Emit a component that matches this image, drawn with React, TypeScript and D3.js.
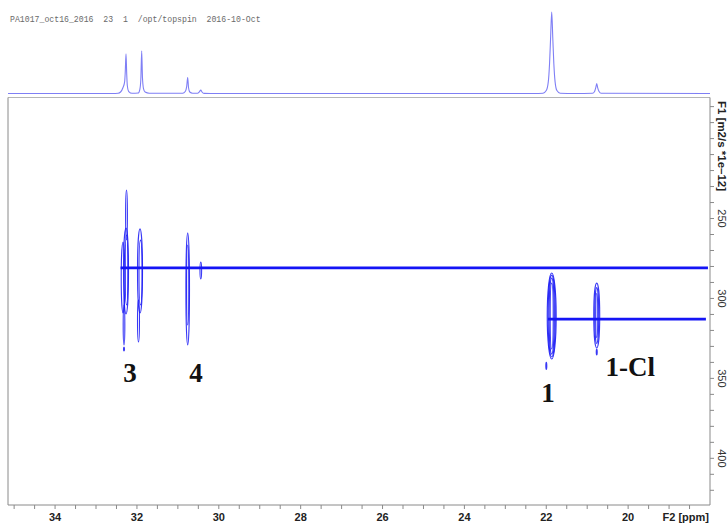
import React from "react";
import * as d3 from "d3";

// ---- data ----
const headerText = "PA1017_oct16_2016  23  1  /opt/topspin  2016-10-Oct";

// 1D projection (F2 ppm, intensity)
const specPpm = [35.15, 32.6, 32.46, 32.4, 32.34, 32.3, 32.285, 32.267, 32.25, 32.235, 32.2, 32.12,
  31.97, 31.93, 31.905, 31.884, 31.865, 31.84, 31.8, 31.7, 31.2,
  30.88, 30.82, 30.785, 30.76, 30.74, 30.71, 30.64,
  30.52, 30.47, 30.44, 30.41, 30.36, 30.2,
  22.3, 22.08, 22.0, 21.95, 21.92, 21.895, 21.867, 21.84, 21.815, 21.785, 21.74, 21.66, 21.3,
  20.87, 20.82, 20.79, 20.767, 20.745, 20.71, 20.66, 18.0];
const specInt = [0, 0, 0.3, 1.5, 6, 12, 22, 40, 20, 8, 2, 0.3,
  0.5, 4, 14, 43, 16, 5, 1.5, 0.3, 0.3,
  0.3, 2, 7, 16, 6, 1.5, 0.2,
  0.2, 2, 3.5, 1.5, 0.1, 0,
  0, 0.3, 3, 12, 30, 55, 82, 55, 30, 12, 3, 0.3, 0,
  0.2, 2, 6, 10, 6, 2, 0.2, 0];

// 2D contours: [ppm, diffusion, half-width ppm, half-height diffusion]
const contourPeak3a = [
  [32.267, 282.8, 0.061, 26.9],
  [32.255, 247.8, 0.022, 15.6],
  [32.34, 286.9, 0.044, 22.2],
  [32.255, 282.2, 0.032, 21.9],
  [32.316, 316.6, 0.02, 12.5],
  [32.316, 331.6, 0.012, 1.25],
];
const contourPeak3b = [
  [31.925, 282.8, 0.061, 26.3],
  [31.913, 283.8, 0.037, 20.3],
  [31.962, 314.1, 0.024, 13.1],
];
const contourPeak4 = [
  [30.76, 294.1, 0.044, 35],
  [30.76, 291.6, 0.027, 25],
  [30.44, 282.5, 0.02, 5.3],
];
const contourPeak1 = [
  [21.867, 311.0, 0.11, 26.9],
  [21.867, 311.0, 0.088, 25.6],
  [21.867, 311.0, 0.064, 23.8],
  [21.867, 311.0, 0.037, 20.6],
  [21.999, 342.2, 0.012, 2.2],
];
const contourPeak1Cl = [
  [20.767, 310.7, 0.073, 20.3],
  [20.767, 310.7, 0.049, 17.5],
  [20.767, 310.7, 0.024, 13.8],
  [20.767, 333.5, 0.012, 1.9],
];

// diffusion lines: [diffusion, from ppm, to ppm]
const diffLines = [
  [280.9, 32.4, 18.05],
  [312.9, 21.96, 18.1],
];

// compound labels: [text, ppm, diffusion]
const labelText = ["3", "4", "1", "1-Cl"];
const labelPpm = [32.17, 30.56, 21.96, 19.95];
const labelD = [352.3, 352.3, 364.8, 348.5];

const xMajorTicks = [34, 32, 30, 28, 26, 24, 22, 20];
const yMajorTicks = [250, 300, 350, 400];

export default function App() {
  const W = 727, H = 523;
  const L = 8, R = 710, T = 97.5, B = 505;
  const x = d3.scaleLinear().domain([35.15, 18.0]).range([L, R]);
  const y = d3.scaleLinear().domain([174.3, 429.2]).range([T, B]);
  const ys = d3.scaleLinear().domain([0, 82]).range([93.5, 12]);

  const specLine = d3.line<number>()
    .x((_, i) => x(specPpm[i]))
    .y((_, i) => ys(specInt[i]))
    .curve(d3.curveMonotoneX);

  const xMinor = d3.range(35, 18.2, -0.5);
  const yMinor = d3.range(180, 429, 10);
  const contours = [...contourPeak3a, ...contourPeak3b, ...contourPeak4, ...contourPeak1, ...contourPeak1Cl];
  const pxPerPpm = Math.abs(x(1) - x(0));
  const pxPerD = Math.abs(y(1) - y(0));
  const axisColor = "#8a8a8a";
  const blue = "#1515f5";

  return (
    <svg width={W} height={H} style={{ position: "absolute", left: 0, top: 0, background: "#fff" }}
      fontFamily="'Liberation Sans', Arial, sans-serif">
      <text x={10} y={22} fontFamily="'Liberation Mono', 'DejaVu Sans Mono', monospace" fontSize={8.2}
        fill="#6a6a6a" style={{ whiteSpace: "pre" }}>{headerText}</text>

      <path d={specLine(specPpm) || ""} fill="none" stroke="#7f7ff5" strokeWidth={1.1} />

      {/* frame */}
      <line x1={L} x2={R} y1={T} y2={T} stroke="#b5b5b5" strokeWidth={1} />
      <line x1={L} x2={L} y1={T} y2={B} stroke={axisColor} strokeWidth={1} />
      <line x1={R} x2={R} y1={T} y2={B} stroke={axisColor} strokeWidth={1} />
      <line x1={L} x2={R} y1={B} y2={B} stroke={axisColor} strokeWidth={1} />

      {xMinor.map((v) => (
        <line key={"xt" + v} x1={x(v)} x2={x(v)} y1={B} y2={B + 4} stroke={axisColor} strokeWidth={1} />
      ))}
      {xMajorTicks.map((v) => (
        <text key={"xl" + v} x={x(v)} y={521} textAnchor="middle" fontSize={11} fontWeight="bold" fill="#222">{v}</text>
      ))}
      <text x={709} y={521} textAnchor="end" fontSize={11} fontWeight="bold" fill="#222">F2 [ppm]</text>

      {yMinor.map((v) => (
        <line key={"yt" + v} x1={R} x2={R + 4} y1={y(v)} y2={y(v)} stroke={axisColor} strokeWidth={1} />
      ))}
      {yMajorTicks.map((v) => (
        <text key={"yl" + v} transform={`translate(718,${y(v)}) rotate(90)`} textAnchor="middle" fontSize={11} fill="#333">{v}</text>
      ))}
      <text transform={`translate(718,146) rotate(90)`} textAnchor="middle" fontSize={11.5} fontWeight="bold" fill="#222">F1 [m2/s *1e–12]</text>

      {/* contours */}
      {contours.map((c, i) => (
        <ellipse key={"c" + i} cx={x(c[0])} cy={y(c[1])} rx={c[2] * pxPerPpm} ry={c[3] * pxPerD}
          fill="none" stroke={blue} strokeWidth={1.1} strokeOpacity={0.85} />
      ))}

      {diffLines.map((l, i) => (
        <line key={"dl" + i} x1={x(l[1])} x2={x(l[2])} y1={y(l[0])} y2={y(l[0])} stroke={blue} strokeWidth={2.8} />
      ))}

      {labelText.map((t, i) => (
        <text key={"lab" + i} x={x(labelPpm[i])} y={y(labelD[i])} textAnchor="middle"
          fontFamily="'Liberation Serif', 'DejaVu Serif', serif" fontWeight="bold" fontSize={27} fill="#111">{t}</text>
      ))}
    </svg>
  );
}
